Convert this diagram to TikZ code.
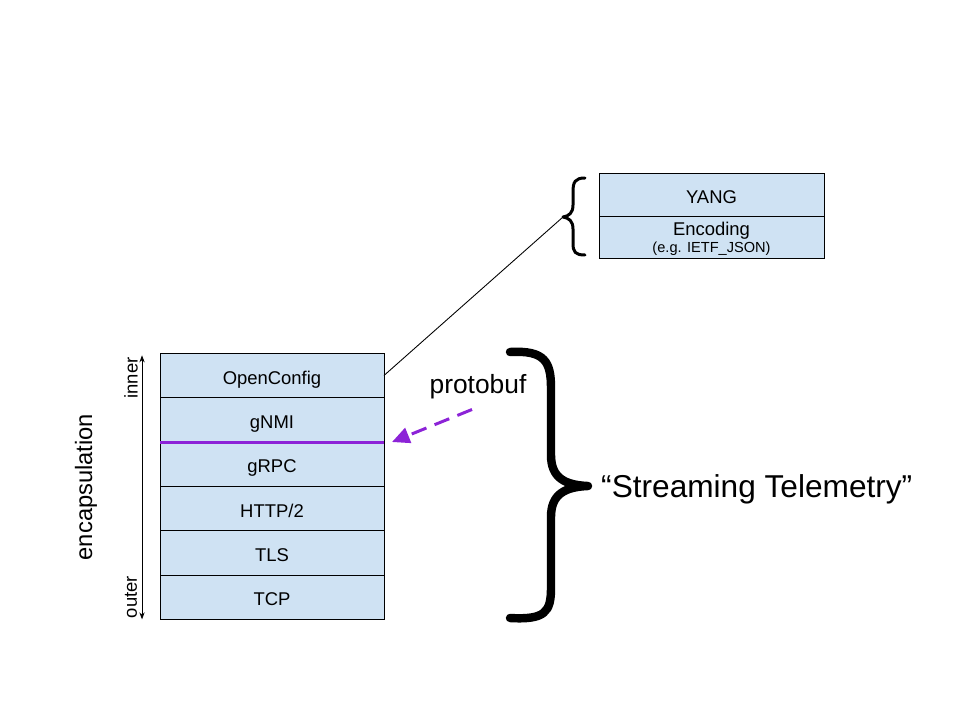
\documentclass[tikz,border=0pt]{standalone}
\usepackage{fontspec}
\setmainfont{Liberation Sans}
\usetikzlibrary{positioning,calc,arrows.meta}
\definecolor{couche}{HTML}{CFE2F3}
\definecolor{violet}{RGB}{140,35,215}
\begin{document}
\begin{tikzpicture}[x=0.02cm,y=-0.02cm,
  couchebox/.style={draw,line width=0.4pt,fill=couche,minimum width=4.48cm,
    minimum height=0.887cm,inner sep=0pt,outer sep=0pt,text height=10pt,text depth=0pt,
    font=\fontsize{10.5}{12}\selectfont},
  hautbox/.style={couchebox,minimum width=4.5cm,minimum height=0.85cm},
  accolade/.style={line width=#1,line cap=round,line join=round},
  etiq/.style={rotate=90,font=\fontsize{10.5}{12}\selectfont}]

\useasboundingbox (0,0) rectangle (960,720);

% Pile de protocoles
\node[couchebox] (oc) at (272,375.5) {OpenConfig};
\node[couchebox,below=0pt of oc] (gnmi) {gNMI};
\node[couchebox,below=0pt of gnmi] (grpc) {gRPC};
\node[couchebox,below=0pt of grpc] (http) {HTTP/2};
\node[couchebox,below=0pt of http] (tls) {TLS};
\node[couchebox,below=0pt of tls] (tcp) {TCP};

% Frontiere protobuf
\draw[violet,line width=1.7pt] (gnmi.south west) -- (gnmi.south east);

% Donnees
\node[hautbox] (yang) at (711.5,195) {YANG};
\node[hautbox,below=0pt of yang,align=center,text height=,text depth=0pt,font=\fontsize{10.5}{11}\selectfont] (enc)
  {Encoding\\[-1pt]{\fontsize{8.3}{9}\selectfont (e.g. IETF\_JSON)}};

% Petite accolade
\coordinate (pointe) at (563,217);
\draw[accolade=1.7pt] (585,178) .. controls (575,178) and (573,182) .. (573,192)
  -- (573,205) .. controls (573,213) and (569,216) .. (pointe)
  .. controls (569,218) and (573,221) .. (573,229) -- (573,243)
  .. controls (573,252) and (575,255) .. (585,255);
\draw[line width=0.5pt] (oc.east) -- (pointe);

% Grande accolade
\coordinate (bout) at (588,486);
\draw[accolade=4.8pt] (510,352) .. controls (545,350) and (551,362) .. (551,388)
  -- (551,455) .. controls (551,478) and (565,485) .. (bout)
  .. controls (565,487) and (551,494) .. (551,517) -- (551,588)
  .. controls (551,612) and (545,620) .. (510,618);
\node[right=4pt of bout,yshift=-2pt,font=\fontsize{18}{20}\selectfont] (st) {“Streaming Telemetry”};

% protobuf
\node[font=\fontsize{15}{17}\selectfont] (proto) at (478,387) {protobuf};
\draw[violet,line width=1.7pt,dash pattern=on 9pt off 5pt,-{Triangle[length=10pt,width=9pt]}]
  ($(proto.south)+(-6,4)$) -- ($(gnmi.south east)+(8,0)$);

% Encapsulation
\coordinate (haut) at ($(oc.north west)+(-18,2)$);
\coordinate (bas) at ($(tcp.south west)+(-18,0)$);
\draw[line width=0.5pt,{Stealth[length=4pt,width=3pt]}-{Stealth[length=4pt,width=3pt]}] (haut) -- (bas);
\node[etiq] (inner) at (131,378) {inner};
\node[etiq] (outer) at (131,597) {outer};
\node[rotate=90,font=\fontsize{13.5}{15}\selectfont] (encap) at (86,487) {encapsulation};

\end{tikzpicture}
\end{document}
